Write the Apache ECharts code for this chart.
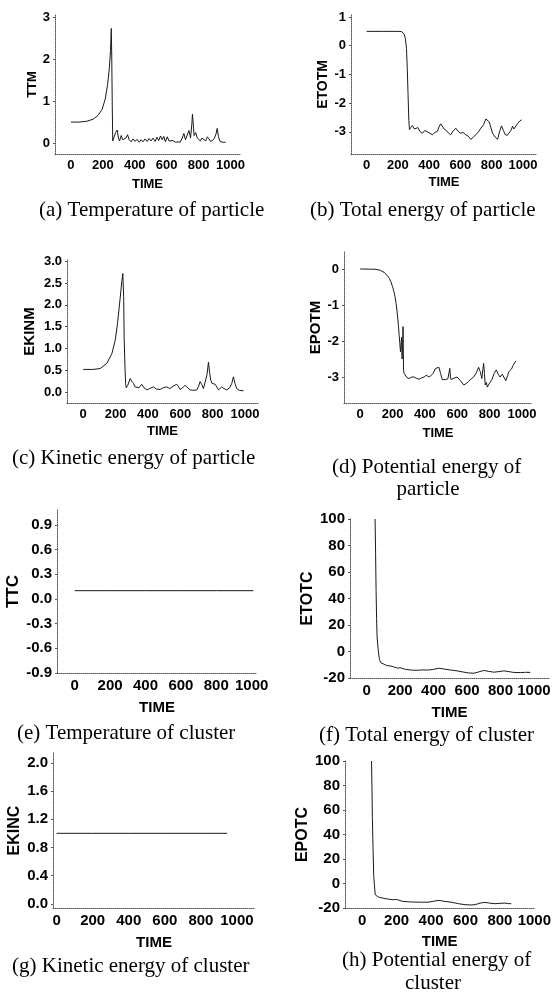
<!DOCTYPE html>
<html>
<head>
<meta charset="utf-8">
<script src="https://cdn.jsdelivr.net/npm/echarts@6/dist/echarts.min.js"></script>
<style>
  html, body { margin: 0; padding: 0; background: #fff; }
  #chart { width: 554px; height: 1003px; }
</style>
</head>
<body>
<div id="chart"></div>
<script>
// ---- data: [TIME, value] ----
const ttmData = [[0,0.5],[50,0.5],[100,0.52],[140,0.57],[170,0.66],[195,0.8],[215,1.05],[230,1.4],[240,1.75],[248,2.2],[253,2.73],[256,2.0],[259,0.9],[262,0.05],[270,0.08],[280,0.25],[290,0.31],[298,0.12],[305,0.05],[315,0.18],[325,0.08],[335,0.04],[345,0.12],[355,0.2],[365,0.08],[378,0.03],[390,0.1],[402,0.04],[415,0.09],[428,0.02],[440,0.08],[452,0.03],[465,0.1],[478,0.04],[490,0.11],[502,0.05],[515,0.12],[528,0.04],[540,0.14],[550,0.06],[562,0.17],[572,0.08],[582,0.16],[592,0.03],[604,0.15],[615,0.05],[625,0.02],[640,0.06],[655,0.02],[670,0.03],[685,0.02],[698,0.12],[708,0.23],[718,0.08],[728,0.12],[740,0.3],[750,0.12],[758,0.45],[762,0.69],[768,0.4],[772,0.18],[782,0.25],[792,0.12],[802,0.16],[812,0.05],[822,0.12],[833,0.08],[845,0.05],[855,0.15],[865,0.1],[875,0.04],[888,0.06],[900,0.12],[910,0.22],[917,0.35],[925,0.15],[935,0.04],[950,0.02],[970,0.02]];

const etotmData = [[0,0.5],[100,0.5],[200,0.5],[225,0.49],[240,0.4],[248,0.25],[255,-0.1],[260,-0.8],[265,-1.7],[270,-2.6],[274,-2.92],[282,-2.85],[293,-2.78],[305,-2.9],[315,-2.93],[328,-2.85],[340,-2.98],[357,-3.05],[372,-2.95],[389,-3.0],[405,-3.05],[421,-3.1],[437,-3.02],[453,-2.98],[465,-2.8],[474,-2.72],[485,-2.78],[496,-2.9],[510,-2.95],[525,-3.05],[538,-3.1],[552,-2.98],[570,-2.87],[585,-2.98],[602,-3.05],[618,-3.02],[634,-3.1],[650,-3.15],[667,-3.26],[683,-3.18],[699,-3.1],[715,-3.0],[731,-2.87],[748,-2.75],[763,-2.55],[774,-2.6],[784,-2.65],[795,-2.85],[806,-3.05],[822,-3.18],[838,-3.26],[850,-3.0],[863,-2.79],[875,-2.95],[887,-3.1],[900,-3.12],[912,-3.1],[923,-2.95],[934,-2.8],[942,-2.9],[951,-2.85],[965,-2.72],[980,-2.62],[992,-2.58]];

const ekinmData = [[0,0.52],[60,0.52],[105,0.54],[146,0.66],[177,0.88],[198,1.19],[212,1.57],[228,2.14],[239,2.55],[245,2.72],[250,2.2],[253,1.27],[258,0.6],[262,0.2],[266,0.1],[275,0.15],[290,0.31],[300,0.25],[311,0.2],[320,0.12],[331,0.08],[345,0.1],[362,0.18],[375,0.1],[393,0.05],[410,0.08],[434,0.12],[452,0.07],[475,0.06],[495,0.1],[516,0.12],[535,0.08],[558,0.14],[578,0.18],[590,0.12],[599,0.06],[615,0.1],[630,0.16],[645,0.1],[661,0.05],[680,0.04],[702,0.05],[712,0.12],[722,0.24],[732,0.18],[743,0.08],[755,0.12],[765,0.4],[774,0.69],[781,0.45],[788,0.27],[796,0.2],[805,0.24],[815,0.18],[825,0.12],[836,0.05],[846,0.08],[856,0.12],[870,0.08],[887,0.05],[905,0.1],[918,0.2],[928,0.35],[938,0.2],[948,0.08],[965,0.04],[990,0.03]];

const epotmData = [[0,0.0],[50,-0.005],[98,-0.01],[125,-0.04],[149,-0.1],[165,-0.17],[180,-0.26],[190,-0.36],[200,-0.49],[208,-0.62],[215,-0.77],[222,-0.95],[227,-1.14],[232,-1.36],[237,-1.6],[241,-1.85],[245,-2.06],[249,-2.3],[252,-2.34],[256,-1.9],[259,-2.5],[262,-2.2],[265,-1.6],[268,-2.8],[272,-2.9],[276,-2.94],[290,-3.02],[303,-3.04],[318,-3.0],[334,-3.0],[350,-3.04],[364,-3.06],[380,-3.02],[395,-3.0],[408,-2.95],[419,-2.9],[428,-3.0],[436,-3.05],[450,-2.9],[466,-2.76],[478,-2.74],[487,-2.73],[497,-2.9],[507,-3.07],[518,-3.08],[528,-3.07],[542,-3.05],[554,-2.76],[558,-3.0],[562,-3.07],[580,-3.03],[599,-3.0],[620,-3.1],[640,-3.22],[655,-3.18],[671,-3.12],[686,-3.05],[701,-3.0],[716,-2.9],[732,-2.73],[742,-2.85],[752,-3.04],[758,-2.8],[763,-2.62],[768,-2.9],[773,-3.22],[780,-3.15],[786,-3.28],[793,-3.22],[803,-3.18],[814,-3.07],[828,-2.9],[841,-2.8],[853,-2.92],[865,-3.0],[878,-2.92],[890,-2.95],[900,-3.1],[906,-3.05],[912,-2.95],[919,-2.85],[926,-2.85],[935,-2.78],[945,-2.68],[955,-2.6],[963,-2.55]];

const ttcData = [[0,0.1],[200,0.1],[400,0.1],[600,0.1],[800,0.1],[1010,0.1]];

const etotcData = [[50,100],[53,75],[56,46],[59,25],[62,11],[68,2],[76,-6],[85,-8.5],[95,-10],[120,-10.6],[145,-11],[165,-11.8],[185,-12.6],[200,-12.2],[225,-13.3],[264,-14],[300,-14.2],[330,-13.9],[363,-14],[400,-13.5],[433,-12.6],[465,-13.3],[502,-14],[540,-14.6],[581,-15.6],[610,-16.2],[641,-16.4],[670,-15.4],[700,-14.3],[730,-15],[760,-15.6],[790,-15.2],[820,-14.6],[850,-15.2],[879,-15.8],[920,-15.9],[950,-15.7],[978,-15.8]];

const ekincData = [[0,1.0],[200,1.0],[400,1.0],[600,1.0],[800,1.0],[945,1.0]];

const epotcData = [[54,100],[57,75],[59,54],[63,28],[67,5.7],[72,-3],[76,-9.2],[88,-10.5],[101,-11.4],[140,-12.5],[178,-13.3],[200,-13],[235,-14.6],[275,-15],[312,-15.2],[350,-15.3],[388,-15.2],[420,-14.3],[446,-13.8],[480,-14.6],[522,-15.4],[560,-16.5],[598,-17.3],[630,-17.5],[656,-17.3],[685,-16],[713,-15.4],[740,-16],[771,-16.5],[800,-16.2],[828,-16],[850,-16.4],[866,-16.5]];

// ---- tick labels ----
const timeTicks = [0, 200, 400, 600, 800, 1000];
const ttmTicks = [0, 1, 2, 3];
const etotmTicks = [-3, -2, -1, 0, 1];
const ekinmTicks = [0, 0.5, 1, 1.5, 2, 2.5, 3];
const epotmTicks = [-3, -2, -1, 0];
const ttcTicks = [-0.9, -0.6, -0.3, 0, 0.3, 0.6, 0.9];
const etotcTicks = [-20, 0, 20, 40, 60, 80, 100];
const ekincTicks = [0, 0.4, 0.8, 1.2, 1.6, 2.0];
const epotcTicks = [-20, 0, 20, 40, 60, 80, 100];

const yNames = ['TTM', 'ETOTM', 'EKINM', 'EPOTM', 'TTC', 'ETOTC', 'EKINC', 'EPOTC'];
const captions = [
  ['(a) Temperature of particle'],
  ['(b) Total energy of particle'],
  ['(c) Kinetic energy of particle'],
  ['(d) Potential energy of', 'particle'],
  ['(e) Temperature of cluster'],
  ['(f) Total energy of cluster'],
  ['(g) Kinetic energy of cluster'],
  ['(h) Potential energy of', 'cluster']
];

const seriesData = [ttmData, etotmData, ekinmData, epotmData, ttcData, etotcData, ekincData, epotcData];
const yTicks = [ttmTicks, etotmTicks, ekinmTicks, epotmTicks, ttcTicks, etotcTicks, ekincTicks, epotcTicks];

// layout of each small plot (pixels) and its axis ranges
const panels = [
  { grid: [55, 15, 185, 139],  x: [-100, 1060], y: [-0.26, 3.05], tick: 13, nx: 13, ny: 13, xGap: 24, yGap: 15, dec: 0 },
  { grid: [351, 15, 186, 139], x: [-100, 1090], y: [-3.77, 1.07], tick: 13, nx: 13, ny: 14, xGap: 22, yGap: 20, dec: 0 },
  { grid: [67, 260, 191, 143], x: [-100, 1080], y: [-0.25, 3.03], tick: 13, nx: 13, ny: 15, xGap: 22, yGap: 30, dec: 1 },
  { grid: [344, 252, 188, 151], x: [-100, 1062], y: [-3.72, 0.47], tick: 13, nx: 13, ny: 15, xGap: 24, yGap: 21, dec: 0 },
  { grid: [57, 510, 200, 163], x: [-100, 1030], y: [-0.9, 1.08],  tick: 15, nx: 15, ny: 17, xGap: 27, yGap: 33, dec: 1 },
  { grid: [350, 519, 199, 159], x: [-100, 1090], y: [-20, 100],   tick: 15, nx: 15, ny: 16, xGap: 27, yGap: 28, dec: 0 },
  { grid: [53, 753, 202, 155], x: [-20, 1100],  y: [-0.06, 2.14], tick: 15, nx: 15, ny: 16, xGap: 27, yGap: 30, dec: 1 },
  { grid: [345, 761, 190, 147], x: [-100, 1000], y: [-20, 100],   tick: 15, nx: 15, ny: 16, xGap: 26, yGap: 25, dec: 0 }
];
const captionPos = [
  [39, 210], [310, 210], [12, 458], [332, 467],
  [17, 733], [319, 735], [12, 966], [342, 960]
];
const secondLinePos = [null, null, null, [428, 489], null, null, null, [433, 983]];

const SANS = '"Liberation Sans", Arial, sans-serif';
const SERIF = '"Liberation Serif", "Times New Roman", serif';

const axisLine = { show: true, onZero: false, lineStyle: { color: '#555', width: 1, type: 'dotted' } };

const grids = [], xAxes = [], yAxes = [], series = [], graphics = [];

panels.forEach((p, i) => {
  grids.push({ left: p.grid[0], top: p.grid[1], width: p.grid[2], height: p.grid[3] });

  xAxes.push({
    type: 'value', gridIndex: i, min: p.x[0], max: p.x[1],
    name: 'TIME', nameLocation: 'middle', nameGap: p.xGap,
    nameTextStyle: { fontFamily: SANS, fontWeight: 'bold', fontSize: p.nx, color: '#000' },
    axisLine, axisTick: { show: false }, splitLine: { show: false },
    axisLabel: {
      customValues: timeTicks, margin: 5,
      fontFamily: SANS, fontWeight: 'bold', fontSize: p.tick, color: '#000',
      formatter: (v) => String(v)
    }
  });

  yAxes.push({
    type: 'value', gridIndex: i, min: p.y[0], max: p.y[1],
    name: yNames[i], nameLocation: 'middle', nameGap: p.yGap,
    nameTextStyle: { fontFamily: SANS, fontWeight: 'bold', fontSize: p.ny, color: '#000' },
    axisLine, splitLine: { show: false },
    axisTick: { show: true, length: 2, customValues: yTicks[i], lineStyle: { color: '#555' } },
    axisLabel: {
      customValues: yTicks[i], margin: 5,
      fontFamily: SANS, fontWeight: 'bold', fontSize: p.tick, color: '#000',
      formatter: (v) => Number(v).toFixed(p.dec)
    }
  });

  series.push({
    type: 'line', xAxisIndex: i, yAxisIndex: i,
    data: seriesData[i], showSymbol: false, silent: true,
    lineStyle: { color: '#1a1a1a', width: 1 }
  });

  graphics.push({
    type: 'text', x: captionPos[i][0], y: captionPos[i][1],
    style: { text: captions[i][0], fontFamily: SERIF, fontSize: 21, fill: '#000', align: 'left', verticalAlign: 'middle' }
  });
  if (captions[i][1]) {
    graphics.push({
      type: 'text', x: secondLinePos[i][0], y: secondLinePos[i][1],
      style: { text: captions[i][1], fontFamily: SERIF, fontSize: 21, fill: '#000', align: 'center', verticalAlign: 'middle' }
    });
  }
});

const chart = echarts.init(document.getElementById('chart'), null, { renderer: 'canvas' });
chart.setOption({
  animation: false,
  backgroundColor: '#fff',
  grid: grids,
  xAxis: xAxes,
  yAxis: yAxes,
  series,
  graphic: graphics
});
</script>
</body>
</html>
